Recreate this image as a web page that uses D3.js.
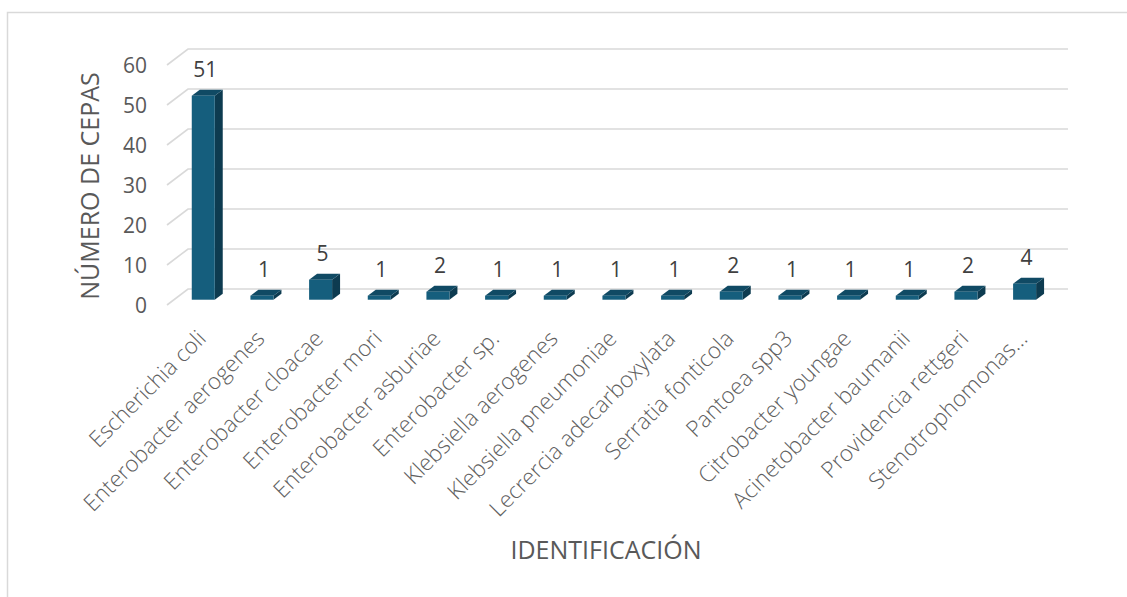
<!DOCTYPE html>
<html>
<head>
<meta charset="utf-8">
<script src="https://cdn.jsdelivr.net/npm/d3@7"></script>
<style>
  body { margin: 0; background: #fff; }
  svg { display: block; font-family: "Open Sans", "Noto Sans", sans-serif; }
</style>
</head>
<body>
<svg id="chart" width="1127" height="597"></svg>
<script>
/* Data */
const categories = [
  'Escherichia coli', 'Enterobacter aerogenes', 'Enterobacter cloacae', 'Enterobacter mori',
  'Enterobacter asburiae', 'Enterobacter sp.', 'Klebsiella aerogenes', 'Klebsiella pneumoniae',
  'Lecrercia adecarboxylata', 'Serratia fonticola', 'Pantoea spp3', 'Citrobacter youngae',
  'Acinetobacter baumanii', 'Providencia rettgeri', 'Stenotrophomonas…'
];
const counts = [51, 1, 5, 1, 2, 1, 1, 1, 1, 2, 1, 1, 1, 2, 4];
const yTicks = [0, 10, 20, 30, 40, 50, 60];

/* Layout */
const floorLeft = 167, floorRight = 1047;
const depthX = 21, depthY = 16;       // floor depth offset
const t1 = 0.33, t2 = 0.71;           // bar front / back as fraction of depth
const barW = 23;

const svg = d3.select('#chart');

// outer frame
svg.append('rect')
  .attr('x', 7.5).attr('y', 12.5)
  .attr('width', 1140).attr('height', 620)
  .attr('fill', 'none').attr('stroke', '#d9d9d9').attr('stroke-width', 1.5);

const x = d3.scaleBand().domain(categories).range([floorLeft, floorRight]);
const y = d3.scaleLinear().domain([0, 60]).range([305, 65]);

/* Gridlines (side wall diagonal + back wall) */
svg.append('g').selectAll('path')
  .data(yTicks)
  .join('path')
  .attr('d', d => `M${floorLeft},${y(d)} L${floorLeft + depthX},${y(d) - depthY} L${floorRight + depthX},${y(d) - depthY}`)
  .attr('fill', 'none')
  .attr('stroke', '#d9d9d9')
  .attr('stroke-width', 1.6);

/* Y axis labels */
const yAxis = svg.append('g')
  .attr('transform', 'translate(151,1)')
  .call(d3.axisLeft(y).tickValues(yTicks).tickSize(0).tickPadding(4));
yAxis.select('.domain').remove();
yAxis.selectAll('text')
  .attr('fill', '#595959')
  .style('font-size', '21px')
  .style('font-family', '"Open Sans", sans-serif');

/* Bars */
const ox = depthX * t1, oy = depthY * t1;
const dx = depthX * (t2 - t1), dy = depthY * (t2 - t1);
const bars = svg.append('g').selectAll('g')
  .data(categories.map((c, i) => ({ c, v: counts[i] })))
  .join('g');

const cx = d => x(d.c) + x.bandwidth() / 2 + ox;
const yTop = d => y(d.v) - oy;
const yBot = () => y(0) - oy;

bars.append('path') // side
  .attr('d', d => {
    const x1 = cx(d) + barW / 2;
    return `M${x1},${yTop(d)} L${x1 + dx},${yTop(d) - dy} L${x1 + dx},${yBot() - dy} L${x1},${yBot()} Z`;
  })
  .attr('fill', '#0d3b50');

bars.append('path') // top
  .attr('d', d => {
    const x0 = cx(d) - barW / 2, x1 = cx(d) + barW / 2, t = yTop(d);
    return `M${x0},${t} L${x1},${t} L${x1 + dx},${t - dy} L${x0 + dx},${t - dy} Z`;
  })
  .attr('fill', '#104a64');

bars.append('rect') // front
  .attr('x', d => cx(d) - barW / 2)
  .attr('y', d => yTop(d))
  .attr('width', barW)
  .attr('height', d => yBot() - yTop(d))
  .attr('fill', '#155e7d');

/* Data labels */
bars.append('text')
  .attr('x', d => cx(d) + 2)
  .attr('y', d => yTop(d) - 19)
  .attr('text-anchor', 'middle')
  .attr('fill', '#404040')
  .style('font-size', '21px')
  .text(d => d.v);

/* Category labels */
svg.append('g').selectAll('text')
  .data(categories)
  .join('text')
  .attr('transform', d => `translate(${x(d) + x.bandwidth() / 2 + ox + 4},${340}) rotate(-45)`)
  .attr('text-anchor', 'end')
  .attr('fill', '#606060')
  .style('font-size', '22.5px')
  .style('font-weight', 300)
  .text(d => d);

/* Axis titles */
svg.append('text')
  .attr('transform', 'translate(99,186) rotate(-90)')
  .attr('text-anchor', 'middle')
  .attr('fill', '#595959')
  .style('font-size', '25px')
  .text('NÚMERO DE CEPAS');

svg.append('text')
  .attr('x', 606).attr('y', 559)
  .attr('text-anchor', 'middle')
  .attr('fill', '#595959')
  .style('font-size', '25px')
  .text('IDENTIFICACIÓN');
</script>
</body>
</html>
